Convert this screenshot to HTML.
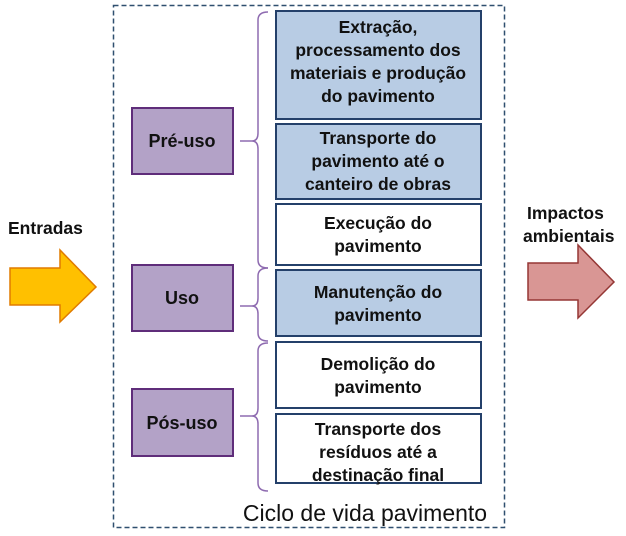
<!DOCTYPE html>
<html><head><meta charset="utf-8"><style>
html,body{margin:0;padding:0;background:#fff}
svg text{font-family:"Liberation Sans",sans-serif;font-weight:bold;fill:#111}
</style></head><body>
<svg width="626" height="531" xmlns="http://www.w3.org/2000/svg">
<rect x="113.5" y="5.5" width="391" height="522" fill="none" stroke="#2f4f6f" stroke-width="1.5" stroke-dasharray="5,3"/>
<g stroke="#24406a" stroke-width="2">
<rect x="276" y="11" width="205" height="108" fill="#b8cce4"/>
<rect x="276" y="124" width="205" height="75" fill="#b8cce4"/>
<rect x="276" y="204" width="205" height="61" fill="#fff"/>
<rect x="276" y="270" width="205" height="66" fill="#b8cce4"/>
<rect x="276" y="342" width="205" height="66" fill="#fff"/>
<rect x="276" y="414" width="205" height="69" fill="#fff"/>
</g>
<g font-size="17.5" text-anchor="middle">
<text x="378" y="33">Extração,</text>
<text x="378" y="56">processamento dos</text>
<text x="378" y="79">materiais e produção</text>
<text x="378" y="102">do pavimento</text>
<text x="378" y="144">Transporte  do</text>
<text x="378" y="167">pavimento até o</text>
<text x="378" y="190">canteiro de obras</text>
<text x="378" y="229">Execução do</text>
<text x="378" y="252">pavimento</text>
<text x="378" y="298">Manutenção do</text>
<text x="378" y="321">pavimento</text>
<text x="378" y="370">Demolição do</text>
<text x="378" y="393">pavimento</text>
<text x="378" y="435">Transporte dos</text>
<text x="378" y="458">resíduos até a</text>
<text x="378" y="481">destinação final</text>
</g>
<g fill="#b3a2c7" stroke="#5f2d7a" stroke-width="2">
<rect x="132" y="108" width="101" height="66"/>
<rect x="132" y="265" width="101" height="66"/>
<rect x="132" y="389" width="101" height="67"/>
</g>
<g font-size="18" text-anchor="middle">
<text x="182" y="147">Pré-uso</text>
<text x="182" y="304">Uso</text>
<text x="182" y="429">Pós-uso</text>
</g>
<g fill="none" stroke="#8e6bb0" stroke-width="1.5">
<path d="M268,12 Q258,12 258,20 L258,133 Q258,141 252,141 L240,141 M252,141 Q258,141 258,149 L258,260 Q258,268 268,268"/>
<path d="M268,268 Q258,268 258,276 L258,298 Q258,306 252,306 L240,306 M252,306 Q258,306 258,314 L258,333 Q258,341 268,341"/>
<path d="M268,343 Q258,343 258,351 L258,408 Q258,416 252,416 L240,416 M252,416 Q258,416 258,424 L258,483 Q258,491 268,491"/>
</g>
<text x="365" y="521" font-size="23" text-anchor="middle" style="font-weight:normal">Ciclo de vida pavimento</text>
<text x="8" y="234" font-size="17.5">Entradas</text>
<text x="527" y="219" font-size="17.5">Impactos</text>
<text x="523" y="242" font-size="17.5">ambientais</text>
<polygon points="10,268 60,268 60,250 96,287 60,322 60,305 10,305" fill="#ffc000" stroke="#e07b00" stroke-width="1.5"/>
<polygon points="528,263 578,263 578,245 614,282 578,318 578,300 528,300" fill="#d99694" stroke="#953735" stroke-width="1.5"/>
</svg>
</body></html>
